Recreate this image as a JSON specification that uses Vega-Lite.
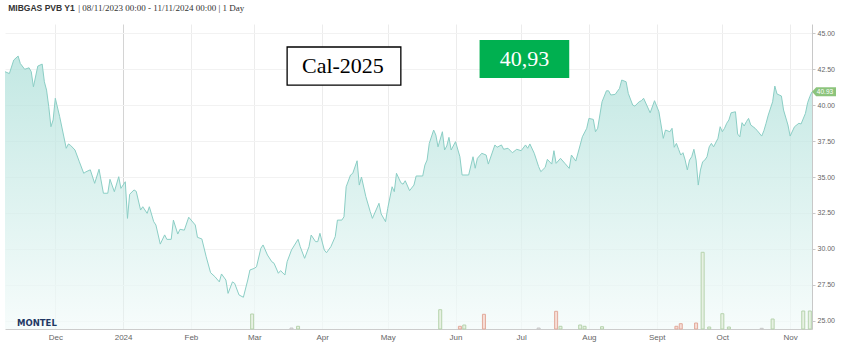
{
  "$schema": "https://vega.github.io/schema/vega-lite/v6.json",
  "width": 807,
  "height": 305,
  "autosize": "none",
  "padding": {"left": 5, "top": 24, "right": 35, "bottom": 26},
  "background": "#ffffff",
  "config": {"view": {"stroke": null}},
  "datasets": {
    "price": [
      {"d":"2023-11-08","p":42.33},{"d":"2023-11-10","p":42.2},{"d":"2023-11-12","p":43.14},{"d":"2023-11-14","p":43.42},{"d":"2023-11-15","p":42.9},{"d":"2023-11-17","p":42.5},{"d":"2023-11-19","p":42.6},{"d":"2023-11-20","p":42.33},{"d":"2023-11-21","p":41.28},{"d":"2023-11-23","p":42.72},{"d":"2023-11-25","p":42.86},{"d":"2023-11-26","p":41.63},{"d":"2023-11-27","p":41.05},{"d":"2023-11-28","p":39.9},{"d":"2023-11-29","p":38.5},{"d":"2023-11-30","p":38.97},
      {"d":"2023-12-01","p":40.48},{"d":"2023-12-03","p":39.2},{"d":"2023-12-06","p":37.0},{"d":"2023-12-07","p":37.3},{"d":"2023-12-08","p":37.2},{"d":"2023-12-10","p":36.88},{"d":"2023-12-12","p":36.06},{"d":"2023-12-14","p":35.26},{"d":"2023-12-15","p":35.36},{"d":"2023-12-17","p":35.5},{"d":"2023-12-19","p":34.56},{"d":"2023-12-21","p":35.54},{"d":"2023-12-23","p":33.87},{"d":"2023-12-25","p":33.87},{"d":"2023-12-26","p":34.84},{"d":"2023-12-28","p":33.98},{"d":"2023-12-30","p":35.02},{"d":"2023-12-31","p":34.21},
      {"d":"2024-01-02","p":34.67},{"d":"2024-01-03","p":32.12},{"d":"2024-01-04","p":33.8},{"d":"2024-01-06","p":34.1},{"d":"2024-01-07","p":34.0},{"d":"2024-01-09","p":32.7},{"d":"2024-01-10","p":32.93},{"d":"2024-01-12","p":32.47},{"d":"2024-01-13","p":32.93},{"d":"2024-01-15","p":31.89},{"d":"2024-01-16","p":31.66},{"d":"2024-01-18","p":30.33},{"d":"2024-01-20","p":30.97},{"d":"2024-01-21","p":30.66},{"d":"2024-01-23","p":30.66},{"d":"2024-01-24","p":32.0},{"d":"2024-01-26","p":31.03},{"d":"2024-01-27","p":31.36},{"d":"2024-01-29","p":31.3},{"d":"2024-01-31","p":32.2},
      {"d":"2024-02-03","p":31.66},{"d":"2024-02-04","p":30.8},{"d":"2024-02-06","p":30.69},{"d":"2024-02-08","p":29.45},{"d":"2024-02-10","p":28.34},{"d":"2024-02-12","p":28.06},{"d":"2024-02-14","p":27.7},{"d":"2024-02-15","p":28.25},{"d":"2024-02-17","p":27.83},{"d":"2024-02-18","p":26.9},{"d":"2024-02-20","p":27.7},{"d":"2024-02-21","p":27.6},{"d":"2024-02-23","p":26.79},{"d":"2024-02-25","p":26.63},{"d":"2024-02-27","p":27.83},{"d":"2024-02-28","p":28.53},
      {"d":"2024-03-01","p":28.64},{"d":"2024-03-02","p":28.75},{"d":"2024-03-04","p":30.04},{"d":"2024-03-05","p":30.27},{"d":"2024-03-07","p":29.57},{"d":"2024-03-09","p":29.1},{"d":"2024-03-10","p":29.0},{"d":"2024-03-12","p":28.3},{"d":"2024-03-13","p":28.48},{"d":"2024-03-15","p":28.18},{"d":"2024-03-16","p":29.1},{"d":"2024-03-18","p":29.92},{"d":"2024-03-21","p":30.66},{"d":"2024-03-22","p":30.15},{"d":"2024-03-24","p":29.34},{"d":"2024-03-26","p":30.15},{"d":"2024-03-27","p":30.96},{"d":"2024-03-29","p":30.5},{"d":"2024-03-30","p":30.5},{"d":"2024-03-31","p":31.08},
      {"d":"2024-04-02","p":29.92},{"d":"2024-04-03","p":29.73},{"d":"2024-04-05","p":30.15},{"d":"2024-04-07","p":30.85},{"d":"2024-04-08","p":32.0},{"d":"2024-04-10","p":32.0},{"d":"2024-04-11","p":32.23},{"d":"2024-04-12","p":34.32},{"d":"2024-04-14","p":35.14},{"d":"2024-04-15","p":35.25},{"d":"2024-04-17","p":36.13},{"d":"2024-04-18","p":34.44},{"d":"2024-04-19","p":35.0},{"d":"2024-04-21","p":33.63},{"d":"2024-04-23","p":32.59},{"d":"2024-04-24","p":32.12},{"d":"2024-04-27","p":33.17},{"d":"2024-04-28","p":32.43},{"d":"2024-04-30","p":31.89},
      {"d":"2024-05-01","p":32.82},{"d":"2024-05-03","p":34.32},{"d":"2024-05-04","p":33.98},{"d":"2024-05-05","p":35.26},{"d":"2024-05-07","p":34.6},{"d":"2024-05-08","p":34.5},{"d":"2024-05-09","p":34.74},{"d":"2024-05-11","p":34.05},{"d":"2024-05-13","p":34.44},{"d":"2024-05-14","p":35.07},{"d":"2024-05-17","p":35.07},{"d":"2024-05-18","p":35.83},{"d":"2024-05-19","p":36.18},{"d":"2024-05-20","p":37.34},{"d":"2024-05-22","p":38.27},{"d":"2024-05-23","p":37.92},{"d":"2024-05-24","p":37.1},{"d":"2024-05-26","p":38.15},{"d":"2024-05-27","p":36.88},{"d":"2024-05-28","p":37.16},{"d":"2024-05-29","p":37.76},{"d":"2024-05-30","p":36.88},
      {"d":"2024-06-01","p":37.46},{"d":"2024-06-03","p":36.41},{"d":"2024-06-04","p":35.14},{"d":"2024-06-07","p":35.14},{"d":"2024-06-09","p":36.41},{"d":"2024-06-10","p":35.61},{"d":"2024-06-11","p":36.3},{"d":"2024-06-13","p":36.65},{"d":"2024-06-15","p":36.53},{"d":"2024-06-16","p":35.9},{"d":"2024-06-19","p":37.23},{"d":"2024-06-20","p":37.07},{"d":"2024-06-22","p":37.23},{"d":"2024-06-23","p":36.93},{"d":"2024-06-25","p":37.0},{"d":"2024-06-27","p":36.69},{"d":"2024-06-29","p":36.93},
      {"d":"2024-07-01","p":36.83},{"d":"2024-07-03","p":37.23},{"d":"2024-07-04","p":37.0},{"d":"2024-07-05","p":37.3},{"d":"2024-07-07","p":36.65},{"d":"2024-07-09","p":35.72},{"d":"2024-07-10","p":35.37},{"d":"2024-07-12","p":35.67},{"d":"2024-07-13","p":36.23},{"d":"2024-07-15","p":35.9},{"d":"2024-07-16","p":36.83},{"d":"2024-07-17","p":35.95},{"d":"2024-07-19","p":36.3},{"d":"2024-07-21","p":35.95},{"d":"2024-07-23","p":35.6},{"d":"2024-07-24","p":36.53},{"d":"2024-07-26","p":36.11},{"d":"2024-07-28","p":37.23},{"d":"2024-07-29","p":37.8},{"d":"2024-07-31","p":38.39},
      {"d":"2024-08-01","p":39.08},{"d":"2024-08-03","p":39.01},{"d":"2024-08-04","p":38.15},{"d":"2024-08-05","p":38.39},{"d":"2024-08-07","p":40.24},{"d":"2024-08-09","p":41.0},{"d":"2024-08-10","p":41.0},{"d":"2024-08-11","p":40.71},{"d":"2024-08-13","p":40.75},{"d":"2024-08-15","p":41.17},{"d":"2024-08-16","p":41.75},{"d":"2024-08-18","p":41.63},{"d":"2024-08-19","p":40.82},{"d":"2024-08-21","p":40.01},{"d":"2024-08-22","p":39.94},{"d":"2024-08-24","p":40.24},{"d":"2024-08-25","p":40.31},{"d":"2024-08-26","p":40.48},{"d":"2024-08-29","p":39.47},{"d":"2024-08-31","p":40.31},
      {"d":"2024-09-02","p":39.54},{"d":"2024-09-04","p":37.69},{"d":"2024-09-05","p":38.27},{"d":"2024-09-07","p":38.15},{"d":"2024-09-08","p":38.39},{"d":"2024-09-09","p":37.07},{"d":"2024-09-10","p":37.34},{"d":"2024-09-11","p":36.93},{"d":"2024-09-12","p":36.53},{"d":"2024-09-13","p":36.69},{"d":"2024-09-14","p":36.18},{"d":"2024-09-15","p":35.49},{"d":"2024-09-16","p":36.18},{"d":"2024-09-17","p":36.41},{"d":"2024-09-18","p":36.93},{"d":"2024-09-19","p":36.18},{"d":"2024-09-20","p":34.44},{"d":"2024-09-21","p":35.49},{"d":"2024-09-22","p":36.06},{"d":"2024-09-23","p":36.18},{"d":"2024-09-24","p":36.41},{"d":"2024-09-25","p":37.1},{"d":"2024-09-26","p":37.34},{"d":"2024-09-27","p":37.1},{"d":"2024-09-29","p":37.69},{"d":"2024-09-30","p":38.5},
      {"d":"2024-10-01","p":38.15},{"d":"2024-10-02","p":38.39},{"d":"2024-10-03","p":38.74},{"d":"2024-10-04","p":38.97},{"d":"2024-10-05","p":39.47},{"d":"2024-10-07","p":39.54},{"d":"2024-10-08","p":37.99},{"d":"2024-10-09","p":37.8},{"d":"2024-10-10","p":38.78},{"d":"2024-10-11","p":38.55},{"d":"2024-10-12","p":38.85},{"d":"2024-10-13","p":39.08},{"d":"2024-10-14","p":38.62},{"d":"2024-10-16","p":38.39},{"d":"2024-10-17","p":38.22},{"d":"2024-10-19","p":37.85},{"d":"2024-10-20","p":38.22},{"d":"2024-10-21","p":38.74},{"d":"2024-10-22","p":39.31},{"d":"2024-10-24","p":40.24},{"d":"2024-10-25","p":41.33},{"d":"2024-10-26","p":40.78},{"d":"2024-10-28","p":40.64},{"d":"2024-10-29","p":39.66},{"d":"2024-10-31","p":38.62},
      {"d":"2024-11-01","p":37.85},{"d":"2024-11-03","p":38.5},{"d":"2024-11-05","p":38.74},{"d":"2024-11-06","p":38.69},{"d":"2024-11-08","p":39.43},{"d":"2024-11-09","p":40.17},{"d":"2024-11-10","p":40.6},{"d":"2024-11-11","p":40.93}
    ],
    "vol": [
      {"d":"2024-02-29","v":150,"s":"up"},
      {"d":"2024-03-18","v":10,"s":"flat"},
      {"d":"2024-03-21","v":27,"s":"up"},
      {"d":"2024-05-25","v":193,"s":"up"},
      {"d":"2024-06-03","v":27,"s":"down"},
      {"d":"2024-06-05","v":40,"s":"up"},
      {"d":"2024-06-14","v":147,"s":"down"},
      {"d":"2024-07-09","v":10,"s":"flat"},
      {"d":"2024-07-17","v":177,"s":"down"},
      {"d":"2024-07-19","v":27,"s":"up"},
      {"d":"2024-07-28","v":40,"s":"up"},
      {"d":"2024-07-30","v":27,"s":"up"},
      {"d":"2024-08-07","v":23,"s":"up"},
      {"d":"2024-09-10","v":27,"s":"down"},
      {"d":"2024-09-12","v":53,"s":"down"},
      {"d":"2024-09-19","v":60,"s":"down"},
      {"d":"2024-09-22","v":767,"s":"up"},
      {"d":"2024-09-25","v":20,"s":"up"},
      {"d":"2024-10-01","v":153,"s":"up"},
      {"d":"2024-10-04","v":20,"s":"up"},
      {"d":"2024-10-19","v":7,"s":"flat"},
      {"d":"2024-10-24","v":100,"s":"up"},
      {"d":"2024-11-07","v":180,"s":"up"},
      {"d":"2024-11-10","v":180,"s":"up"}
    ]
  },
  "layer": [
    {
      "layer": [
        {
          "data": {"name": "price"},
          "mark": {
            "type": "area",
            "color": {"gradient": "linear", "x1": 0, "y1": 0, "x2": 0, "y2": 1, "stops": [{"offset": 0, "color": "#a9ded7"}, {"offset": 1, "color": "#f3fbfa"}]},
            "line": {"color": "#8bcec5", "strokeWidth": 1}
          },
          "encoding": {
            "x": {
              "field": "d", "type": "temporal",
              "scale": {"type": "utc", "padding": 0, "domain": [{"year": 2023, "month": 11, "date": 8, "utc": true}, {"year": 2024, "month": 11, "date": 11, "utc": true}]},
              "axis": {
                "title": null,
                "values": [
                  {"year": 2023, "month": 12, "date": 1, "utc": true},
                  {"year": 2024, "month": 1, "date": 1, "utc": true},
                  {"year": 2024, "month": 2, "date": 1, "utc": true},
                  {"year": 2024, "month": 3, "date": 1, "utc": true},
                  {"year": 2024, "month": 4, "date": 1, "utc": true},
                  {"year": 2024, "month": 5, "date": 1, "utc": true},
                  {"year": 2024, "month": 6, "date": 1, "utc": true},
                  {"year": 2024, "month": 7, "date": 1, "utc": true},
                  {"year": 2024, "month": 8, "date": 1, "utc": true},
                  {"year": 2024, "month": 9, "date": 1, "utc": true},
                  {"year": 2024, "month": 10, "date": 1, "utc": true},
                  {"year": 2024, "month": 11, "date": 1, "utc": true}
                ],
                "tickCount": 20,
                "labelExpr": "utcmonth(datum.value) == 0 ? utcFormat(datum.value, '%Y') : (utcmonth(datum.value) == 8 ? 'Sept' : utcFormat(datum.value, '%b'))",
                "grid": true,
                "gridColor": {"condition": {"test": "utcmonth(datum.value) == 0", "value": "#d4d4d4"}, "value": "#ececec"},
                "ticks": false,
                "domainColor": "#cccccc",
                "labelColor": "#666666",
                "labelFont": "Liberation Sans",
                "labelFontSize": 8,
                "labelPadding": 4,
                "labelOverlap": false,
                "labelFlush": false
              }
            },
            "y": {
              "field": "p", "type": "quantitative",
              "scale": {"domain": [24.42, 45.65], "nice": false, "zero": false},
              "axis": {
                "orient": "right",
                "title": null,
                "values": [25, 27.5, 30, 32.5, 35, 37.5, 40, 42.5, 45],
                "tickCount": 12,
                "format": ".2f",
                "labelOverlap": false,
                "grid": true,
                "gridColor": "#f2f2f2",
                "domainColor": "#c8c8c8",
                "tickColor": "#c8c8c8",
                "tickSize": 3,
                "labelColor": "#666666",
                "labelFont": "Liberation Sans",
                "labelFontSize": 7,
                "labelPadding": 2
              }
            },
            "y2": {"datum": 24.42}
          }
        },
        {
          "data": {"values": [{"d": "2024-11-11", "p": 40.93}]},
          "mark": {"type": "point", "shape": "M0,0L0.35,-0.375L2,-0.375L2,0.375L0.35,0.375Z", "filled": true, "color": "#8cc47c", "opacity": 1, "size": 576},
          "encoding": {
            "x": {"field": "d", "type": "temporal"},
            "y": {"field": "p", "type": "quantitative"}
          }
        },
        {
          "data": {"values": [{"d": "2024-11-11", "p": 40.93}]},
          "mark": {"type": "text", "color": "#ffffff", "font": "Liberation Sans", "fontSize": 6.5, "dx": 13, "align": "center", "baseline": "middle"},
          "encoding": {
            "x": {"field": "d", "type": "temporal"},
            "y": {"field": "p", "type": "quantitative"},
            "text": {"field": "p", "type": "quantitative", "format": ".2f"}
          }
        },
        {
          "data": {"values": [{}]},
          "mark": {"type": "rect", "fill": "#ffffff", "stroke": "#000000", "strokeWidth": 1.3},
          "encoding": {
            "x": {"datum": {"year": 2024, "month": 3, "date": 16, "utc": true}, "type": "temporal"},
            "x2": {"datum": {"year": 2024, "month": 5, "date": 7, "utc": true}},
            "y": {"datum": 44.05, "type": "quantitative"},
            "y2": {"datum": 41.4}
          }
        },
        {
          "data": {"values": [{}]},
          "mark": {"type": "text", "text": "Cal-2025", "font": "Liberation Serif", "fontSize": 22, "color": "#000000", "align": "center", "baseline": "middle"},
          "encoding": {
            "x": {"datum": {"year": 2024, "month": 4, "date": 10, "hours": 12, "utc": true}, "type": "temporal"},
            "y": {"datum": 42.73, "type": "quantitative"}
          }
        },
        {
          "data": {"values": [{}]},
          "mark": {"type": "rect", "fill": "#00b050"},
          "encoding": {
            "x": {"datum": {"year": 2024, "month": 6, "date": 12, "utc": true}, "type": "temporal"},
            "x2": {"datum": {"year": 2024, "month": 7, "date": 23, "utc": true}},
            "y": {"datum": 44.54, "type": "quantitative"},
            "y2": {"datum": 41.89}
          }
        },
        {
          "data": {"values": [{}]},
          "mark": {"type": "text", "text": "40,93", "font": "Liberation Serif", "fontSize": 22, "color": "#ffffff", "align": "center", "baseline": "middle"},
          "encoding": {
            "x": {"datum": {"year": 2024, "month": 7, "date": 2, "hours": 12, "utc": true}, "type": "temporal"},
            "y": {"datum": 43.21, "type": "quantitative"}
          }
        },
        {
          "data": {"values": [{}]},
          "mark": {"type": "text", "text": "MIBGAS PVB Y1", "font": "Liberation Sans", "fontWeight": "bold", "fontSize": 8.5, "color": "#333333", "align": "left", "baseline": "middle"},
          "encoding": {
            "x": {"datum": {"year": 2023, "month": 11, "date": 9, "hours": 12, "utc": true}, "type": "temporal"},
            "y": {"datum": 46.76, "type": "quantitative"}
          }
        },
        {
          "data": {"values": [{}]},
          "mark": {"type": "text", "text": "| 08/11/2023 00:00 - 11/11/2024 00:00 | 1 Day", "font": "Liberation Serif", "fontSize": 9, "color": "#333333", "align": "left", "baseline": "middle"},
          "encoding": {
            "x": {"datum": {"year": 2023, "month": 12, "date": 11, "hours": 12, "utc": true}, "type": "temporal"},
            "y": {"datum": 46.76, "type": "quantitative"}
          }
        },
        {
          "data": {"values": [{}]},
          "mark": {"type": "text", "text": "MONTEL", "font": "DejaVu Sans", "fontWeight": "bold", "fontSize": 8.5, "color": "#1f3864", "align": "left", "baseline": "middle"},
          "encoding": {
            "x": {"datum": {"year": 2023, "month": 11, "date": 13, "hours": 12, "utc": true}, "type": "temporal"},
            "y": {"datum": 24.84, "type": "quantitative"}
          }
        }
      ]
    },
    {
      "data": {"name": "vol"},
      "mark": {"type": "bar", "size": 3, "strokeWidth": 1},
      "encoding": {
        "x": {"field": "d", "type": "temporal"},
        "y": {"field": "v", "type": "quantitative", "scale": {"domain": [0, 3050], "nice": false}, "axis": null},
        "fill": {"field": "s", "type": "nominal", "scale": {"domain": ["up", "down", "flat"], "range": ["#e7f1e3", "#f6ded7", "#eeeeee"]}, "legend": null},
        "stroke": {"field": "s", "type": "nominal", "scale": {"domain": ["up", "down", "flat"], "range": ["#b6d3ad", "#e2aa9b", "#c8c8c8"]}, "legend": null}
      }
    }
  ],
  "resolve": {"scale": {"y": "independent"}}
}
